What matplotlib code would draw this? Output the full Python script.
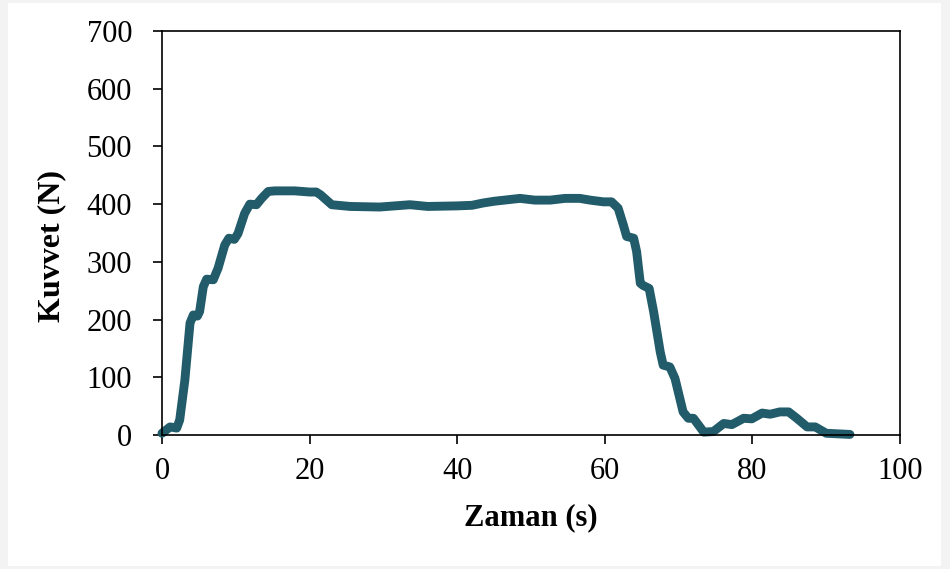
"""Force vs. time curve (Kuvvet / Zaman)."""

import matplotlib

matplotlib.use("Agg")
matplotlib.rcParams["font.family"] = ["Liberation Serif", "DejaVu Serif"]
import matplotlib.patches as mpatches
import matplotlib.pyplot as plt

# time (s) and force (N)
zaman = [
    0.0, 1.1, 2.0, 2.4, 3.1, 3.8, 4.25, 4.8, 5.1, 5.6, 6.05, 6.95, 7.6,
    8.5, 9.07, 9.8, 10.3, 11.2, 11.9, 12.8, 13.5, 14.4, 15.3, 18.0,
    20.0, 20.9, 21.5, 23.0, 25.5, 29.5, 33.6, 36.0, 40.0, 42.0, 43.5,
    45.0, 48.5, 50.5, 52.6, 54.6, 56.6, 58.0, 59.8, 60.9, 61.8, 62.5,
    62.95, 63.9, 64.3, 64.8, 65.2, 66.0, 66.6, 67.5, 67.9, 68.8, 69.5,
    70.6, 71.3, 72.0, 72.7, 73.4, 74.7, 76.1, 77.2, 78.8, 79.9, 81.3,
    82.4, 83.7, 84.9, 86.0, 87.4, 88.5, 90.0, 93.2,
]
kuvvet = [
    3, 14, 12, 26, 95, 194, 208, 206, 214, 257, 270, 269, 289,
    329, 341, 339, 349, 384, 400, 399, 410, 422, 423, 423,
    421, 421, 416, 399, 396, 395, 399, 396, 397, 398, 402,
    405, 410, 407, 407, 410, 410, 407, 404, 404, 393, 364,
    344, 341, 318, 263, 259, 254, 214, 144, 121, 118, 98,
    40, 29, 29, 17, 5, 6, 20, 18, 29, 28, 38,
    36, 40, 40, 29, 14, 14, 3, 1,
]

x_ticks = [0, 20, 40, 60, 80, 100]
y_ticks = [0, 100, 200, 300, 400, 500, 600, 700]

fig = plt.figure(figsize=(9.5, 5.69), dpi=100)
fig.patch.set_facecolor("#f3f3f3")
# white page inside a thin grey margin
page = mpatches.Rectangle(
    (8 / 950, 3 / 569), 933 / 950, 563 / 569,
    transform=fig.transFigure, facecolor="white", edgecolor="none",
    zorder=-10,
)
fig.add_artist(page)

ax = fig.add_axes([0.1705, 0.2355, 0.777, 0.71])
ax.set_zorder(5)
ax.plot(zaman, kuvvet, color="#225b6a", linewidth=6.4,
        solid_capstyle="round", solid_joinstyle="round", clip_on=False)

ax.set_xlim(0, 100)
ax.set_ylim(0, 700)
ax.set_xticks(x_ticks)
ax.set_yticks(y_ticks)
ax.tick_params(direction="out", length=6.5, width=1.2, labelsize=22,
               colors="black")
ax.tick_params(axis="x", pad=9)
ax.tick_params(axis="y", pad=15)
for sp in ax.spines.values():
    sp.set_linewidth(1.2)

ax.set_xlabel("Zaman (s)", fontsize=22, fontweight="bold")
ax.set_ylabel("Kuvvet (N)", fontsize=23, fontweight="bold")
ax.xaxis.set_label_coords(0.5, -0.168)
ax.yaxis.set_label_coords(-0.13, 0.468)

fig.savefig("out.png", dpi=100, facecolor=fig.get_facecolor())
plt.close(fig)
